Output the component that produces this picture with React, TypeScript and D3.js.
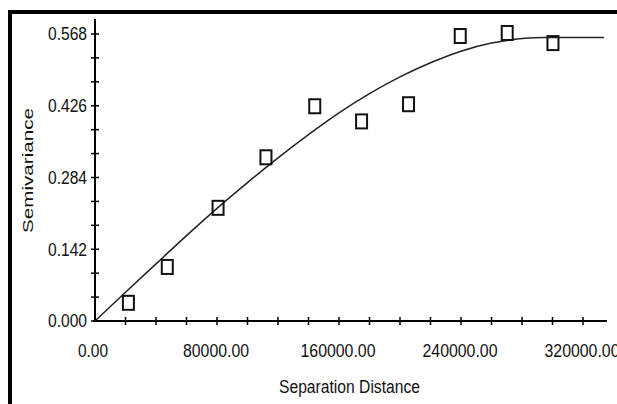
import React from "react";
import * as d3 from "d3";

// experimental semivariogram points (lag distance, semivariance)
const lagDistances = [21900, 47400, 80700, 112100, 144100, 174800, 205600, 239500, 270300, 300300];
const semivariances = [0.036, 0.107, 0.224, 0.324, 0.425, 0.395, 0.429, 0.564, 0.570, 0.550];

// fitted model line
const modelDistances = [0, 20000, 40000, 60000, 80000, 100000, 120000, 140000, 160000, 180000, 200000, 220000, 240000, 260000, 280000, 295000, 320000, 333700];
const modelValues = [0, 0.057, 0.113, 0.169, 0.223, 0.274, 0.323, 0.369, 0.412, 0.450, 0.483, 0.511, 0.534, 0.550, 0.559, 0.561, 0.561, 0.561];

const xTickLabels = [0, 80000, 160000, 240000, 320000];
const yTickLabels = [0, 0.142, 0.284, 0.426, 0.568];

const W = 617;
const H = 404;
const FONT = "'Liberation Sans', Arial, sans-serif";

// the original uses a narrow face, squeeze the regular one to the same width
const labelLen = (s: string) => s.replace(/\./g, "").length * 9 + 3;

export default function App() {
  const x = d3.scaleLinear().domain([0, 320000]).range([95, 583]);
  const y = d3.scaleLinear().domain([0, 0.568]).range([321, 34]);

  // minor ticks every 20000 along x, every 0.142/3 along y
  const xTicks = d3.range(1, 17).map((i) => i * 20000);
  const yTicks = d3.range(0, 13).map((i) => (i * 0.568) / 12);

  const line = d3
    .line<number>()
    .x((d) => x(d))
    .y((_, i) => y(modelValues[i]))
    .curve(d3.curveMonotoneX);

  return (
    <svg
      width={W}
      height={H}
      style={{ position: "absolute", left: 0, top: 0, background: "#fff" }}
    >
      <rect x={0} y={0} width={W} height={H} fill="#fff" />
      {/* frame */}
      <rect x={10} y={12} width={800} height={600} fill="none" stroke="#000" strokeWidth={4} />

      {/* axes */}
      <line x1={95} x2={95} y1={19} y2={322} stroke="#000" strokeWidth={2} />
      <line x1={93} x2={607} y1={y(0)} y2={y(0)} stroke="#000" strokeWidth={2} />

      {yTicks.map((t, i) => (
        <line key={"yt" + i} x1={91} x2={99} y1={y(t)} y2={y(t)} stroke="#000" strokeWidth={1.5} />
      ))}
      {xTicks.map((t, i) => (
        <line key={"xt" + i} x1={x(t)} x2={x(t)} y1={317} y2={325} stroke="#000" strokeWidth={1.5} />
      ))}

      {yTickLabels.map((t, i) => {
        const s = t.toFixed(3);
        return (
          <text
            key={"yl" + i}
            x={87}
            y={y(t)}
            dy="0.36em"
            textAnchor="end"
            fontFamily={FONT}
            fontSize={18}
            textLength={labelLen(s)}
            lengthAdjust="spacingAndGlyphs"
            fill="#111"
          >
            {s}
          </text>
        );
      })}
      {xTickLabels.map((t, i) => {
        const s = t.toFixed(2);
        return (
          <text
            key={"xl" + i}
            x={x(t) - (t === 0 ? 2 : 1)}
            y={357}
            textAnchor="middle"
            fontFamily={FONT}
            fontSize={18}
            textLength={labelLen(s)}
            lengthAdjust="spacingAndGlyphs"
            fill="#111"
          >
            {s}
          </text>
        );
      })}

      <text
        x={349.5}
        y={393}
        textAnchor="middle"
        fontFamily={FONT}
        fontSize={17.5}
        textLength={141}
        lengthAdjust="spacingAndGlyphs"
        fill="#111"
      >
        Separation Distance
      </text>
      <text
        transform="translate(33,170.5) rotate(-90)"
        textAnchor="middle"
        fontFamily={FONT}
        fontSize={15.5}
        textLength={125}
        lengthAdjust="spacingAndGlyphs"
        fill="#111"
      >
        Semivariance
      </text>

      {/* model curve */}
      <path d={line(modelDistances) || ""} fill="none" stroke="#222" strokeWidth={1.5} />

      {/* experimental points */}
      {lagDistances.map((d, i) => (
        <rect
          key={"p" + i}
          x={x(d) - 5.5}
          y={y(semivariances[i]) - 7}
          width={11}
          height={14}
          fill="none"
          stroke="#111"
          strokeWidth={2}
        />
      ))}
    </svg>
  );
}
